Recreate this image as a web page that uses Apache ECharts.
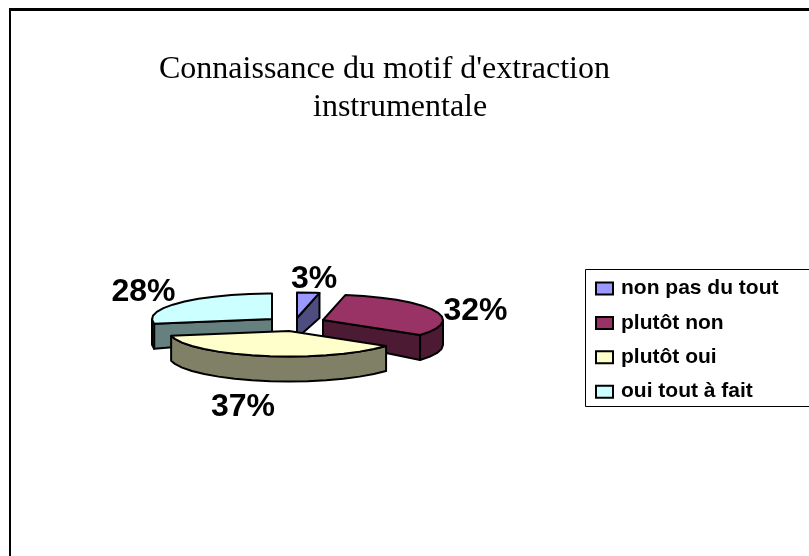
<!DOCTYPE html>
<html>
<head>
<meta charset="utf-8">
<style>html,body{margin:0;padding:0;background:#fff}#c{width:809px;height:556px}</style>
<script src="https://cdn.jsdelivr.net/npm/echarts@6/dist/echarts.min.js"></script>
</head>
<body>
<div id="c"></div>
<script>
const categories = ['non pas du tout', 'plutôt non', 'plutôt oui', 'oui tout à fait'];
const values = [3, 32, 37, 28];
const topColors = ['#9999FF', '#993366', '#FFFFCC', '#CCFFFF'];
const sideColors = ['#4D4D80', '#4D1A33', '#808066', '#668080'];
const apexes = [[297, 318], [323, 320], [289, 331], [272, 319]];
const labelAnchors = [[314, 279], [475.5, 311], [243, 407], [143.5, 292]];
const drawOrder = [2, 2, 3, 2];
const RX = 120, RY = 25.5, DEPTH = 25, APEX_DEPTH = 20, STEP = 9;
const total = values.reduce((a, b) => a + b, 0);

function renderSlice(params, api) {
  const i = params.seriesIndex;
  const v = api.value(0);
  const before = values.slice(0, i).reduce((a, b) => a + b, 0);
  const a0 = before / total * 360, a1 = a0 + v / total * 360;
  const [ax, ay] = apexes[i];
  const pt = (deg, d) => {
    const r = deg * Math.PI / 180;
    return [ax + RX * Math.sin(r), ay - RY * Math.cos(r) + (d || 0)];
  };
  const arcAngles = (from, to) => {
    const out = [from];
    for (let t = from + STEP; t < to; t += STEP) out.push(t);
    out.push(to);
    return out;
  };
  const lineStyle = { stroke: '#000', lineWidth: 2, lineJoin: 'round' };
  const poly = (points, fill) => ({
    type: 'polygon',
    shape: { points },
    style: Object.assign({ fill }, lineStyle)
  });
  const children = [];
  const side = sideColors[i];
  if (a0 > 180) {
    children.push(poly([[ax, ay], pt(a0), pt(a0, DEPTH), [ax, ay + APEX_DEPTH]], side));
  }
  if (a1 < 180) {
    children.push(poly([[ax, ay], pt(a1), pt(a1, DEPTH), [ax, ay + APEX_DEPTH]], side));
  }
  const w0 = Math.max(a0, 90), w1 = Math.min(a1, 270);
  if (w1 > w0) {
    const ang = arcAngles(w0, w1);
    children.push(poly(ang.map(t => pt(t)).concat(ang.slice().reverse().map(t => pt(t, DEPTH))), side));
  }
  children.push(poly([[ax, ay]].concat(arcAngles(a0, a1).map(t => pt(t))), topColors[i]));
  children.push({
    type: 'text',
    z2: 10,
    style: {
      x: labelAnchors[i][0], y: labelAnchors[i][1],
      text: Math.round(v / total * 100) + '%',
      fill: '#000',
      font: 'bold 32px "Liberation Sans", Arial, sans-serif',
      align: 'center', verticalAlign: 'middle'
    }
  });
  return { type: 'group', children };
}

const chart = echarts.init(document.getElementById('c'), null, { renderer: 'canvas' });
chart.setOption({
  animation: false,
  backgroundColor: '#fff',
  title: [
    { text: "Connaissance du motif d'extraction", left: 159, top: 54,
      textStyle: { fontFamily: '"Liberation Serif", serif', fontWeight: 'normal', fontSize: 32, color: '#000' }, padding: 0 },
    { text: 'instrumentale', left: 313, top: 92,
      textStyle: { fontFamily: '"Liberation Serif", serif', fontWeight: 'normal', fontSize: 32, color: '#000' }, padding: 0 }
  ],
  legend: {
    orient: 'vertical', left: 595, top: 278, padding: 0,
    itemWidth: 17, itemHeight: 12, itemGap: 13.4, icon: 'rect',
    data: categories,
    itemStyle: { borderColor: '#000', borderWidth: 2 },
    textStyle: { fontFamily: '"Liberation Sans", Arial, sans-serif', fontWeight: 'bold', fontSize: 21, color: '#000', padding: [0, 0, 0, 3] }
  },
  graphic: [
    { type: 'rect', z: -1, shape: { x: 585.5, y: 269.5, width: 240, height: 137 }, style: { fill: '#fff', stroke: '#000', lineWidth: 1 } },
    { type: 'rect', z: -1, shape: { x: 9, y: 8, width: 2, height: 548 }, style: { fill: '#000' } },
    { type: 'rect', z: -1, shape: { x: 9, y: 8, width: 800, height: 3 }, style: { fill: '#000' } }
  ],
  series: categories.map((name, i) => ({
    type: 'custom',
    name,
    coordinateSystem: 'none',
    z: drawOrder[i],
    silent: true,
    itemStyle: { color: topColors[i] },
    renderItem: renderSlice,
    data: [values[i]]
  }))
});
</script>
</body>
</html>
